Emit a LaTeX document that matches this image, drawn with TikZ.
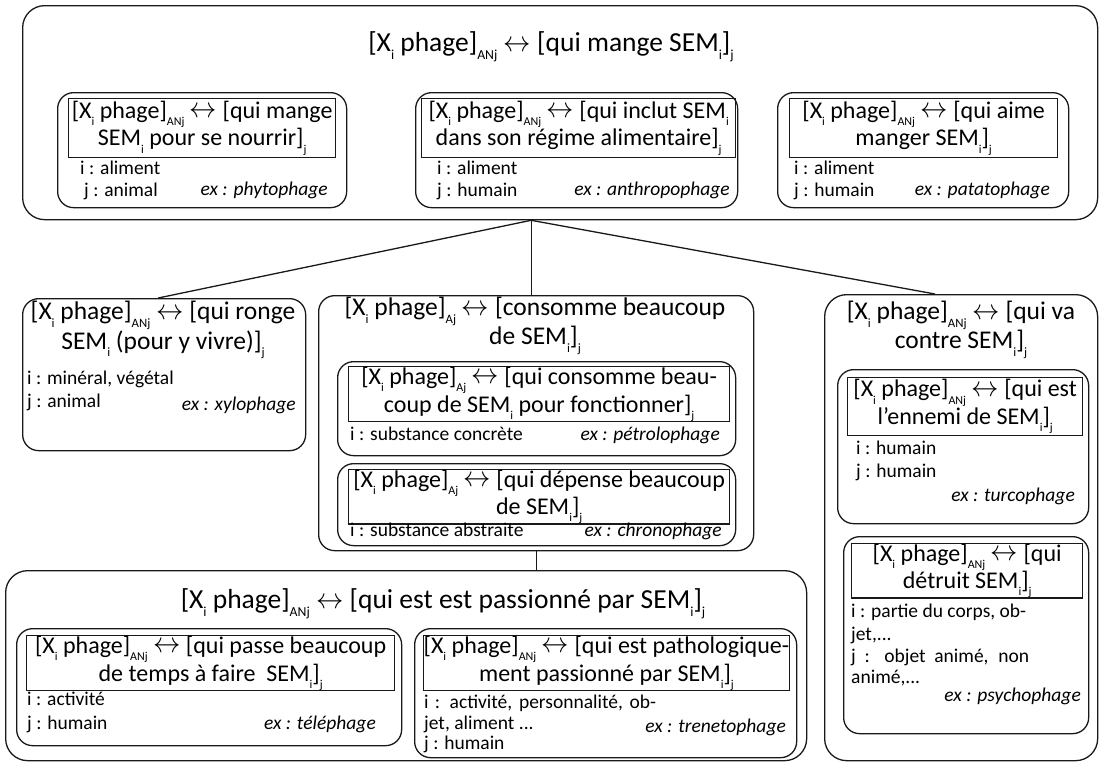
\documentclass[tikz,border=0pt]{standalone}
\usepackage{fontspec}
\setmainfont{Carlito}
\usetikzlibrary{calc}
\newcommand{\sbx}[1]{\raisebox{-0.3em}{\scalebox{0.5}{#1}}}
\newcommand{\lrar}{\raisebox{0.02em}{\scalebox{1.1}[1.15]{$\leftrightarrow$}}}
\newcommand{\myTitleFont}{\fontsize{27.5}{29}\selectfont}
\newcommand{\myMidFont}{\fontsize{25.5}{27}\selectfont}
\newcommand{\myHeadFont}{\fontsize{24}{26}\selectfont}
\newcommand{\mySmallFont}{\fontsize{19.5}{22}\selectfont}
\begin{document}
\begin{tikzpicture}[x=1pt,y=-1pt,
  ln/.style={draw=black!90, line width=1.3pt},
  rbox/.style={ln, rounded corners=16pt, anchor=north west, inner sep=0pt},
  bigbox/.style={rbox, rounded corners=22pt},
  hbox/.style={ln, anchor=north west, inner sep=0pt, align=center, font=\myHeadFont},
  ttl/.style={align=center, inner sep=0pt, font=\myTitleFont},
  mid/.style={align=center, inner sep=0pt, font=\myMidFont},
  sm/.style={inner sep=0pt, font=\mySmallFont, text height=0.7em, text depth=0.2em, anchor=west},
  ex/.style={sm, anchor=east, font=\mySmallFont\itshape}]
\useasboundingbox (0,0) rectangle (1100,764);

% ---------- top box ----------
\node[bigbox, minimum width=1075pt, minimum height=214pt] (T) at (22,5) {};
\node[ttl] (Tt) at (551,47) {[X\sbx{i} phage]\sbx{ANj} \lrar{} [qui mange SEM\sbx{i}]\sbx{j}};

\node[rbox, minimum width=289pt, minimum height=115pt] (A1) at (57,92) {};
\node[hbox, minimum width=267pt, minimum height=59pt] (A1h) at (68,98) {[X\sbx{i} phage]\sbx{ANj} \lrar{} [qui mange\\SEM\sbx{i} pour se nourrir]\sbx{j}};
\node[sm] (A1i) at (80,172) {i : aliment};
\node[sm] (A1j) at (84,194) {j : animal};
\node[ex] (A1e) at (328,193) {ex : phytophage};

\node[rbox, minimum width=322pt, minimum height=115pt] (A2) at (415,92) {};
\node[hbox, minimum width=314pt, minimum height=59pt] (A2h) at (421,98) {[X\sbx{i} phage]\sbx{ANj} \lrar{} [qui inclut SEM\sbx{i}\\dans son régime alimentaire]\sbx{j}};
\node[sm] (A2i) at (437,172) {i : aliment};
\node[sm] (A2j) at (437,194) {j : humain};
\node[ex] (A2e) at (730,193) {ex : anthropophage};

\node[rbox, minimum width=291pt, minimum height=115pt] (A3) at (777,92) {};
\node[hbox, minimum width=268pt, minimum height=59pt] (A3h) at (789,98) {[X\sbx{i} phage]\sbx{ANj} \lrar{} [qui aime\\manger SEM\sbx{i}]\sbx{j}};
\node[sm] (A3i) at (794,172) {i : aliment};
\node[sm] (A3j) at (794,194) {j : humain};
\node[ex] (A3e) at (1050,193) {ex : patatophage};

% ---------- middle row ----------
\node[rbox, minimum width=283pt, minimum height=152pt] (B1) at (22,298) {};
\node[mid] (B1t) at (163,330) {[X\sbx{i} phage]\sbx{ANj} \lrar{} [qui ronge\\SEM\sbx{i} (pour y vivre)]\sbx{j}};
\node[sm] (B1i) at (27,382) {i : minéral, végétal};
\node[sm] (B1j) at (27,405) {j : animal};
\node[ex] (B1e) at (296,408) {ex : xylophage};

\node[rbox, minimum width=435pt, minimum height=255pt] (B2) at (318,295) {};
\node[mid] (B2t) at (535,326) {[X\sbx{i} phage]\sbx{Aj} \lrar{} [consomme beaucoup\\de SEM\sbx{i}]\sbx{j}};
\node[rbox, minimum width=398pt, minimum height=94pt] (C1) at (337,361) {};
\node[hbox, minimum width=381pt, minimum height=55pt] (C1h) at (348,366) {[X\sbx{i} phage]\sbx{Aj} \lrar{} [qui consomme beau-\\coup de SEM\sbx{i} pour fonctionner]\sbx{j}};
\node[sm] (C1i) at (350,438) {i : substance concrète};
\node[ex] (C1e) at (720,438) {ex : pétrolophage};
\node[rbox, minimum width=398pt, minimum height=82pt] (C2) at (337,463) {};
\node[hbox, minimum width=381pt, minimum height=51pt] (C2h) at (348,469) {[X\sbx{i} phage]\sbx{Aj} \lrar{} [qui dépense beaucoup\\de SEM\sbx{i}]\sbx{j}};
\node[sm] (C2i) at (350,534) {i : substance abstraite};
\node[ex] (C2e) at (722,534) {ex : chronophage};

\node[bigbox, minimum width=273pt, minimum height=466pt] (B3) at (824,294) {};
\node[mid] (B3t) at (961,330) {[X\sbx{i} phage]\sbx{ANj} \lrar{} [qui va\\contre SEM\sbx{i}]\sbx{j}};
\node[rbox, minimum width=251pt, minimum height=154pt] (D1) at (837,369) {};
\node[hbox, minimum width=235pt, minimum height=58pt] (D1h) at (847,377) {[X\sbx{i} phage]\sbx{ANj} \lrar{} [qui est\\l’ennemi de SEM\sbx{i}]\sbx{j}};
\node[sm] (D1i) at (856,452) {i : humain};
\node[sm] (D1j) at (856,475) {j : humain};
\node[ex] (D1e) at (1075,499) {ex : turcophage};
\node[rbox, minimum width=245pt, minimum height=197pt] (D2) at (843,536) {};
\node[hbox, minimum width=231pt, minimum height=54pt] (D2h) at (851,543) {[X\sbx{i} phage]\sbx{ANj} \lrar{} [qui\\détruit SEM\sbx{i}]\sbx{j}};
\node[sm] (D2a) at (851,615) {i : partie du corps, ob-};
\node[sm] (D2b) at (851,638) {jet,...};
\node[sm] (D2c) at (851,660) {\makebox[178pt][s]{j : objet animé, non}};
\node[sm] (D2d) at (851,681) {animé,...};
\node[ex] (D2e) at (1081,699) {ex : psychophage};

% ---------- bottom box ----------
\node[bigbox, minimum width=801pt, minimum height=190pt] (B4) at (5,570) {};
\node[ttl] (B4t) at (443,604) {[X\sbx{i} phage]\sbx{ANj} \lrar{} [qui est est passionné par SEM\sbx{i}]\sbx{j}};
\node[rbox, minimum width=385pt, minimum height=117pt] (E1) at (16,628) {};
\node[hbox, minimum width=368pt, minimum height=55pt] (E1h) at (26,635) {[X\sbx{i} phage]\sbx{ANj} \lrar{} [qui passe beaucoup\\de temps à faire\ \ SEM\sbx{i}]\sbx{j}};
\node[sm] (E1i) at (27,703) {i : activité};
\node[sm] (E1j) at (27,727) {j : humain};
\node[ex] (E1e) at (376,727) {ex : téléphage};
\node[rbox, minimum width=382pt, minimum height=129pt] (E2) at (414,628) {};
\node[hbox, minimum width=362pt, minimum height=55pt] (E2h) at (423,635) {[X\sbx{i} phage]\sbx{ANj} \lrar{} [qui est pathologique-\\ment passionné par SEM\sbx{i}]\sbx{j}};
\node[sm] (E2a) at (424,706) {\makebox[232pt][s]{i : activité, personnalité, ob-}};
\node[sm] (E2b) at (424,727) {jet, aliment ...};
\node[sm] (E2c) at (424,747) {j : humain};
\node[ex] (E2e) at (786,730) {ex : trenetophage};

% ---------- connectors ----------
\coordinate (hub) at ([xshift=-29pt]T.south);
\draw[ln] (hub) -- ([xshift=-6pt]B1.north);
\draw[ln] (hub) -- (hub |- B2.north);
\draw[ln] (hub) -- ([xshift=111pt]B3.north west);
\draw[ln] (B2.south) -- (B2.south |- B4.north);
\end{tikzpicture}
\end{document}
